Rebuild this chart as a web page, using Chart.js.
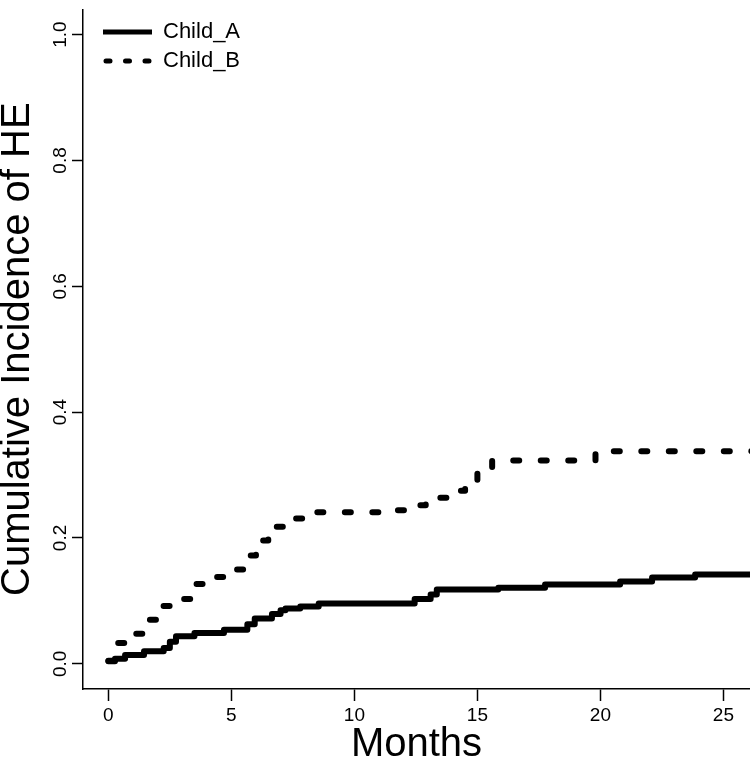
<!DOCTYPE html>
<html>
<head>
<meta charset="utf-8">
<script src="https://cdn.jsdelivr.net/npm/chart.js@4/dist/chart.umd.min.js"></script>
<style>
  html, body { margin: 0; padding: 0; background: #fff; }
  #wrap { width: 750px; height: 760px; }
</style>
</head>
<body>
<div id="wrap"><canvas id="c" width="750" height="760"></canvas></div>
<script>
// ---- data ----
const seriesNames = ["Child_A", "Child_B"];
const childATimes  = [0, 0.27, 0.68, 1.45, 2.25, 2.5, 2.75, 3.5, 4.7, 5.65, 5.95, 6.65, 7.0, 7.2, 7.8, 8.55, 12.45, 13.1, 13.35, 15.85, 17.75, 20.8, 22.1, 23.85, 26.2];
const childAValues = [0.004, 0.008, 0.014, 0.020, 0.025, 0.035, 0.044, 0.049, 0.054, 0.063, 0.072, 0.079, 0.085, 0.088, 0.091, 0.096, 0.103, 0.110, 0.118, 0.121, 0.126, 0.131, 0.137, 0.142, 0.142];
const childBTimes  = [0, 0.35, 1.05, 1.6, 2.1, 2.85, 3.4, 4.2, 5.0, 5.5, 6.0, 6.5, 7.2, 8.0, 11.3, 12.2, 12.9, 13.8, 14.5, 15.0, 15.6, 19.8, 26.2];
const childBValues = [0.005, 0.033, 0.048, 0.070, 0.092, 0.103, 0.127, 0.138, 0.150, 0.172, 0.196, 0.218, 0.231, 0.241, 0.244, 0.252, 0.264, 0.275, 0.286, 0.309, 0.323, 0.338, 0.338];
const xTicks = [0, 5, 10, 15, 20, 25];
const yTicks = [0, 0.2, 0.4, 0.6, 0.8, 1.0];
const xTitle = "Months";
const yTitle = "Cumulative Incidence of HE";

const toPoints = (ts, vs) => ts.map((t, i) => ({ x: t, y: vs[i] }));

Chart.defaults.font.family = "'Liberation Sans', Arial, sans-serif";
Chart.defaults.color = "#000";

const legendShift = {
  id: 'legendShift',
  afterLayout(chart) {
    if (chart.legend) {
      chart.legend.left += 13;
      chart.legend.top += 14;
    }
  }
};

new Chart(document.getElementById('c'), {
  type: 'line',
  data: {
    datasets: [
      {
        label: seriesNames[0],
        data: toPoints(childATimes, childAValues),
        borderColor: '#000',
        backgroundColor: '#000',
        borderWidth: 6,
        pointRadius: 0,
        stepped: 'before',
        fill: false,
        borderCapStyle: 'round',
        borderJoinStyle: 'round'
      },
      {
        label: seriesNames[1],
        data: toPoints(childBTimes, childBValues),
        borderColor: '#000',
        backgroundColor: '#000',
        borderWidth: 6,
        borderDash: [6, 21.5],
        pointRadius: 0,
        stepped: 'before',
        fill: false,
        borderCapStyle: 'round',
        borderJoinStyle: 'round'
      }
    ]
  },
  options: {
    responsive: false,
    animation: false,
    devicePixelRatio: 1,
    layout: { padding: 0 },
    plugins: {
      tooltip: { enabled: false },
      legend: {
        position: 'chartArea',
        align: 'start',
        labels: {
          usePointStyle: true,
          pointStyle: 'line',
          pointStyleWidth: 49,
          padding: 7,
          color: '#000',
          font: { size: 22 },
          generateLabels(chart) {
            const items = Chart.defaults.plugins.legend.labels.generateLabels(chart);
            items.forEach((it, i) => {
              it.lineWidth = 5;
              it.strokeStyle = '#000';
              it.fillStyle = '#000';
              it.pointStyle = 'line';
              if (i === 1) {
                it.lineDash = [4, 15.5];
                it.lineDashOffset = -3;
                it.lineCap = 'round';
              } else {
                it.lineDash = [];
                it.lineCap = 'butt';
              }
            });
            return items;
          }
        }
      }
    },
    scales: {
      x: {
        type: 'linear',
        min: -1.03,
        max: 26.08,
        afterFit(scale) { scale.height = 71; },
        afterBuildTicks(scale) { scale.ticks = xTicks.map(v => ({ value: v })); },
        grid: { display: true, drawOnChartArea: false, drawTicks: true, tickLength: 12, tickWidth: 1.5, tickColor: '#000' },
        border: { display: true, color: '#000', width: 1.5 },
        ticks: {
          autoSkip: false,
          padding: 3,
          maxRotation: 0,
          minRotation: 0,
          font: { size: 19 },
          color: '#000',
          callback: (v) => String(v)
        },
        title: {
          display: true,
          text: xTitle,
          color: '#000',
          font: { size: 40, lineHeight: 0.75 },
          padding: { top: 0, bottom: 0 }
        }
      },
      y: {
        type: 'linear',
        min: -0.04,
        max: 1.04,
        afterFit(scale) { scale.width = 83; },
        afterBuildTicks(scale) { scale.ticks = yTicks.map(v => ({ value: v })); },
        grid: { display: true, drawOnChartArea: false, drawTicks: true, tickLength: 11, tickWidth: 1.5, tickColor: '#000' },
        border: { display: true, color: '#000', width: 1.5 },
        ticks: {
          autoSkip: false,
          padding: -2,
          minRotation: 90,
          maxRotation: 90,
          crossAlign: 'center',
          font: { size: 19 },
          color: '#000',
          callback: (v) => Number(v).toFixed(1)
        },
        title: {
          display: true,
          text: yTitle,
          color: '#000',
          font: { size: 40, lineHeight: 0.75 },
          padding: { top: 3, bottom: 0 }
        }
      }
    }
  },
  plugins: [legendShift]
});
</script>
</body>
</html>
